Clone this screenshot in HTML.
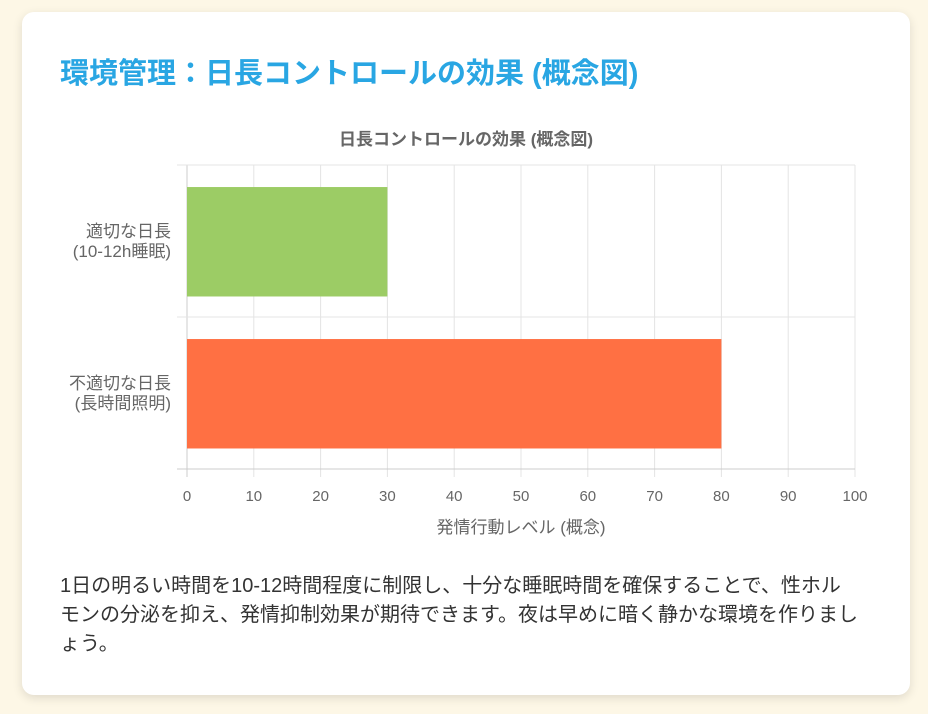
<!DOCTYPE html>
<html><head><meta charset="utf-8"><style>
body{margin:0;width:928px;height:714px;background:#fdf7e6;font-family:"Liberation Sans","Noto Sans CJK JP",sans-serif;position:relative;overflow:hidden}
.card{position:absolute;left:22px;top:12px;width:888px;height:683px;background:#fff;border-radius:12px;box-shadow:0 3px 10px rgba(0,0,0,0.12)}
h1{position:absolute;left:38px;top:42px;margin:0;font-size:29px;line-height:40px;color:#29a6e3;font-weight:bold;font-family:"Liberation Sans","Noto Sans CJK JP",sans-serif;white-space:nowrap}
p{position:absolute;left:38px;top:560px;width:800px;margin:0;font-size:20px;line-height:29px;color:#333}
svg{position:absolute;left:0;top:0}
</style></head><body>
<div class="card">
<h1>環境管理：日長コントロールの効果 (概念図)</h1>
<p>1日の明るい時間を10-12時間程度に制限し、十分な睡眠時間を確保することで、性ホルモンの分泌を抑え、発情抑制効果が期待できます。夜は早めに暗く静かな環境を作りましょう。</p>
</div>
<svg id="c" width="928" height="714"></svg>
<script>
const categories=[["適切な日長","(10-12h睡眠)"],["不適切な日長","(長時間照明)"]];
const values=[30,80];
const colors=["#9ccc65","#ff7043"];
const ticks=[0,10,20,30,40,50,60,70,80,90,100];
const NS="http://www.w3.org/2000/svg",svg=document.getElementById('c');
const x0=187,x1=855,y0=165,y1=469;
const xs=v=>x0+(v/100)*(x1-x0);
const band=(y1-y0)/categories.length;
function mk(t,a,txt){const e=document.createElementNS(NS,t);for(const k in a)e.setAttribute(k,a[k]);if(txt!=null)e.textContent=txt;svg.appendChild(e);return e;}
let t=mk('text',{x:466,y:145,'text-anchor':'middle','font-size':17,'font-weight':'bold',fill:'#666'},'日長コントロールの効果 (概念図)');

ticks.forEach(v=>{
 const l=mk('line',{x1:xs(v),x2:xs(v),y1:y0,y2:y1+8,stroke:v==0?'#ccc':'#e4e4e4'});
 
 const tx=mk('text',{x:xs(v),y:501,'text-anchor':'middle','font-size':15,fill:'#666'},v);
 
});
for(let i=0;i<=categories.length;i++){
 const l=mk('line',{x1:x0-10,x2:x1,y1:y0+i*band,y2:y0+i*band,stroke:i==categories.length?'#ccc':'#e4e4e4'});
 
}
categories.forEach((c,i)=>{
 const by=y0+i*band+band*0.145,bh=band*0.72;
 const r=mk('rect',{x:xs(0),y:by,width:xs(values[i])-xs(0),height:bh,fill:colors[i]});
 
 const cy=y0+i*band+band/2;
 c.forEach((s,j)=>{const tx=mk('text',{x:171,y:cy-4+j*20,'text-anchor':'end','font-size':17,fill:'#666'},s);
 });
});
t=mk('text',{x:521,y:533,'text-anchor':'middle','font-size':17,fill:'#666'},'発情行動レベル (概念)');

</script>
</body></html>
